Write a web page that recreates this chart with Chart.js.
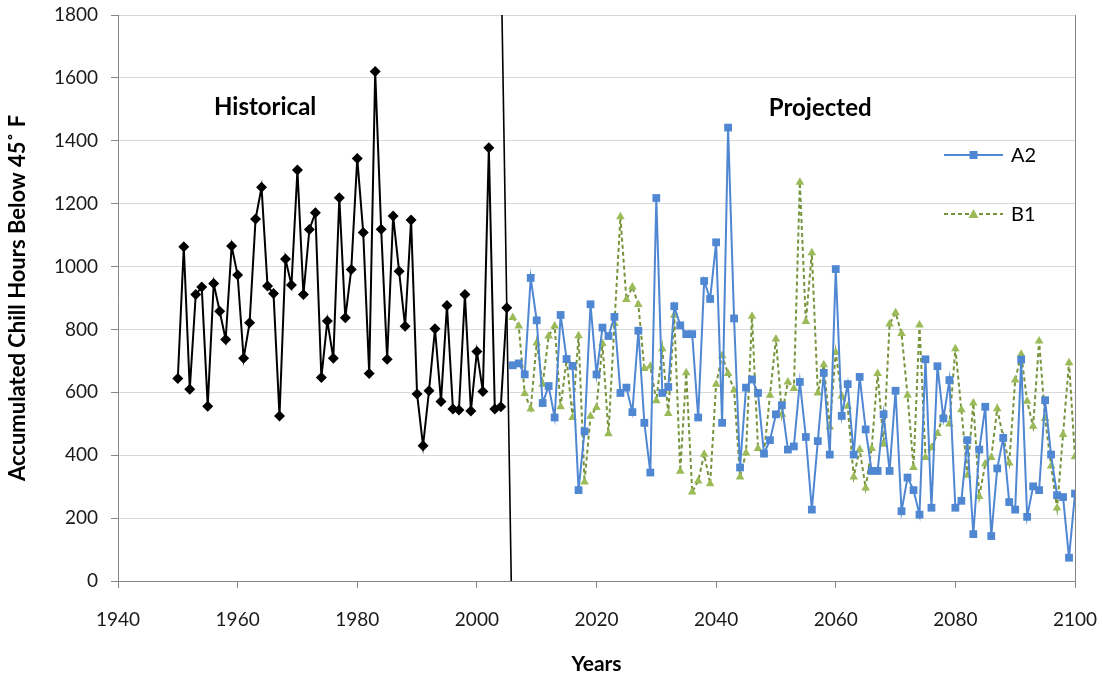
<!DOCTYPE html>
<html>
<head>
<meta charset="utf-8">
<script src="https://cdn.jsdelivr.net/npm/chart.js@4.4.1/dist/chart.umd.min.js"></script>
<style>
html,body{margin:0;padding:0;background:#fff;}
#wrap{width:1103px;height:677px;position:relative;}
</style>
</head>
<body>
<div id="wrap"><canvas id="c" width="1103" height="677"></canvas></div>
<script>
// ---- data ----
const histStartYear = 1950;
const histValues = [644,1063,610,911,935,556,946,858,768,1065,973,708,821,1151,1252,938,914,525,1024,941,
  1307,911,1118,1171,647,827,708,1219,837,991,1344,1108,660,1620,1119,705,1161,985,810,1148,
  595,430,605,802,571,876,547,544,911,541,730,603,1378,547,554,869];

const projStartYear = 2006;
const a2Values = [686,692,657,964,829,566,620,520,846,706,684,289,476,880,657,806,779,840,598,615,
  537,796,503,345,1218,598,617,874,813,785,785,520,954,897,1077,503,1442,835,361,615,
  641,598,405,448,530,559,418,428,633,458,227,445,662,402,992,525,626,402,649,482,
  350,350,530,350,605,222,329,289,211,705,233,683,517,639,233,255,448,149,418,554,
  143,358,455,251,227,704,204,301,289,575,402,273,267,74,278];
const b1Values = [838,811,596,547,757,626,779,811,554,705,520,780,315,524,552,755,468,819,1158,895,
  935,879,676,683,573,739,533,845,349,662,283,318,403,309,626,716,660,607,331,407,
  842,421,405,591,770,530,633,612,1268,825,1044,598,688,490,727,588,556,331,418,296,
  421,660,435,817,853,787,591,361,814,393,424,469,527,499,739,545,336,566,269,373,
  393,548,456,375,639,721,572,492,763,517,366,232,466,694,395];

const dividerYears = [2004.2, 2005.75];
const dividerValues = [1800, 0];

const xTicks = [1940,1960,1980,2000,2020,2040,2060,2080,2100];
const yTicks = [0,200,400,600,800,1000,1200,1400,1600,1800];

const seriesNames = ['Historical','A2','B1'];
const periodLabels = [
  {text:'Historical', x:1964.6, y:1508},
  {text:'Projected', x:2057.4, y:1504}
];

// ---- build ----
const toPts = (start, vals) => vals.map((v,i)=>({x:start+i, y:v}));
const FONT = 'Lato, "Open Sans", sans-serif';
const BLUE = '#4F87D3';
const GREEN_L = '#9BBB59';
const GREEN_D = '#77933C';

const extrasPlugin = {
  id:'extras',
  afterDraw(chart){
    const ctx = chart.ctx;
    const ca = chart.chartArea;
    const xs = chart.scales.x, ys = chart.scales.y;
    ctx.save();
    // right border of plot
    ctx.strokeStyle = '#868686';
    ctx.lineWidth = 1;
    ctx.beginPath();
    ctx.moveTo(Math.round(ca.right)+0.5, ca.top);
    ctx.lineTo(Math.round(ca.right)+0.5, ca.bottom);
    ctx.stroke();
    // period labels
    ctx.fillStyle = '#000';
    ctx.font = 'bold 24px ' + FONT;
    ctx.textAlign = 'center';
    ctx.textBaseline = 'middle';
    periodLabels.forEach(p=>{
      ctx.fillText(p.text, xs.getPixelForValue(p.x), ys.getPixelForValue(p.y));
    });
    // legend (A2, B1)
    const lx0 = ca.right - 131, lx1 = ca.right - 72, tx = ca.right - 64;
    const rows = [
      {name:seriesNames[1], y: ca.top + 140, color:BLUE, dash:[], marker:'rect', fill:BLUE},
      {name:seriesNames[2], y: ca.top + 199, color:GREEN_D, dash:[4,3], marker:'tri', fill:GREEN_L}
    ];
    rows.forEach(r=>{
      ctx.strokeStyle = r.color;
      ctx.lineWidth = 2;
      ctx.setLineDash(r.dash);
      ctx.beginPath();
      ctx.moveTo(lx0, r.y); ctx.lineTo(lx1, r.y); ctx.stroke();
      ctx.setLineDash([]);
      const cx = (lx0+lx1)/2;
      ctx.fillStyle = r.fill;
      ctx.beginPath();
      if (r.marker==='rect'){ ctx.rect(cx-4, r.y-4, 8, 8); }
      else { ctx.moveTo(cx, r.y-5); ctx.lineTo(cx+5, r.y+4); ctx.lineTo(cx-5, r.y+4); ctx.closePath(); }
      ctx.fill();
      ctx.fillStyle = '#000';
      ctx.font = '20px ' + FONT;
      ctx.textAlign = 'left';
      ctx.textBaseline = 'middle';
      ctx.fillText(r.name, tx, r.y+1);
    });
    ctx.restore();
  }
};

new Chart(document.getElementById('c'), {
  type:'line',
  data:{
    datasets:[
      {
        label: seriesNames[0],
        data: toPts(histStartYear, histValues),
        borderColor:'#000', backgroundColor:'#000',
        borderWidth:2, pointStyle:'rectRot', pointRadius:5.5,
        pointBackgroundColor:'#000', pointBorderColor:'#000', pointBorderWidth:0,
        tension:0, order:3
      },
      {
        label: seriesNames[2],
        data: toPts(projStartYear, b1Values),
        borderColor:GREEN_D, backgroundColor:GREEN_L,
        borderWidth:2, borderDash:[4,3], pointStyle:'triangle', pointRadius:5,
        pointBackgroundColor:GREEN_L, pointBorderColor:GREEN_L, pointBorderWidth:0,
        tension:0, order:2
      },
      {
        label: seriesNames[1],
        data: toPts(projStartYear, a2Values),
        borderColor:BLUE, backgroundColor:BLUE,
        borderWidth:2, pointStyle:'rect', pointRadius:5.5,
        pointBackgroundColor:BLUE, pointBorderColor:BLUE, pointBorderWidth:0,
        tension:0, order:1
      },
      {
        label:'divider',
        data: dividerYears.map((x,i)=>({x, y:dividerValues[i]})),
        borderColor:'#000', borderWidth:1.6, pointRadius:0, tension:0, order:0
      }
    ]
  },
  options:{
    responsive:false,
    animation:false,
    devicePixelRatio:1,
    layout:{padding:{left:0,right:28,top:15,bottom:0}},
    plugins:{legend:{display:false}, tooltip:{enabled:false}},
    scales:{
      x:{
        type:'linear', min:1940, max:2100,
        afterBuildTicks(s){ s.ticks = xTicks.map(v=>({value:v})); },
        afterFit(s){ s.height = 96; s.paddingLeft = 0; s.paddingRight = 0; },
        grid:{drawOnChartArea:false, drawTicks:true, tickLength:7, tickColor:'#868686'},
        border:{color:'#868686', width:1},
        ticks:{color:'#1a1a1a', font:{family:FONT, size:19}, padding:20, maxRotation:0,
          callback:v=>String(v)},
        title:{display:true, text:'Years', color:'#000', font:{family:FONT, size:21, weight:'bold'}, padding:{top:0,bottom:0}}
      },
      y:{
        min:0, max:1800,
        afterBuildTicks(s){ s.ticks = yTicks.map(v=>({value:v})); },
        afterFit(s){ s.width = 118; s.paddingTop = 0; s.paddingBottom = 0; },
        grid:{color:'#d9d9d9', lineWidth:1, tickLength:7, tickColor:'#868686'},
        border:{color:'#868686', width:1},
        ticks:{color:'#1a1a1a', font:{family:FONT, size:19}, padding:13, callback:v=>String(v)},
        title:{display:true, text:'Accumulated Chill Hours Below 45˚ F', color:'#000',
          font:{family:FONT, size:22, weight:'bold'}, padding:{top:5,bottom:0}}
      }
    }
  },
  plugins:[extrasPlugin]
});
</script>
</body>
</html>
